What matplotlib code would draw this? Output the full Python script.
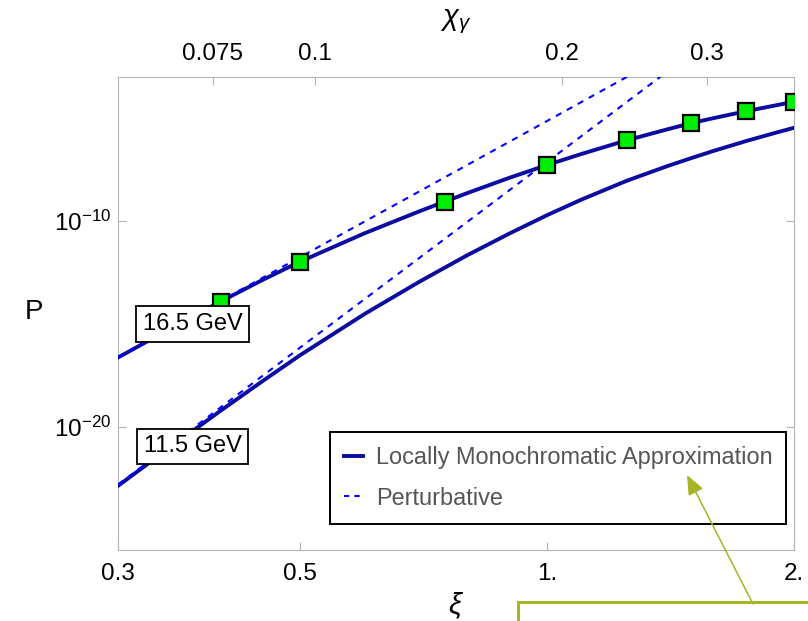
import numpy as np
import matplotlib
matplotlib.use("Agg")
import matplotlib.pyplot as plt
from matplotlib.lines import Line2D
from matplotlib.patches import Rectangle
from matplotlib.ticker import NullLocator

plt.rcParams['font.family'] = ['Liberation Sans', 'DejaVu Sans']
plt.rcParams['mathtext.fontset'] = 'custom'
plt.rcParams['mathtext.rm'] = 'Liberation Sans'
plt.rcParams['mathtext.it'] = 'Liberation Sans:italic'

# xi grid for the locally monochromatic curves
xi_lma = [0.3, 0.35, 0.4, 0.45, 0.5, 0.6, 0.7, 0.8, 0.9, 1.0, 1.1, 1.25, 1.4, 1.5, 1.6, 1.75, 1.9, 2.0]
# log10(P)
logp_165 = [-16.64, -15.17, -13.92, -12.87, -11.98, -10.59, -9.52, -8.64, -7.90, -7.28,
            -6.75, -6.08, -5.55, -5.24, -4.99, -4.66, -4.38, -4.20]
logp_115 = [-22.88, -20.91, -19.23, -17.79, -16.53, -14.51, -12.94, -11.66, -10.61, -9.72,
            -8.97, -8.05, -7.34, -6.94, -6.58, -6.11, -5.71, -5.47]

# perturbative (straight lines in log-log)
xi_pert_165 = [0.3, 0.5, 1.0, 1.3]
logp_pert_165 = [-16.64, -11.76, -5.14, -2.63]
xi_pert_115 = [0.3, 0.5, 1.0, 1.4]
logp_pert_115 = [-22.82, -16.16, -7.13, -2.75]

# green square markers on the 16.5 GeV curve
xi_marks = [0.4, 0.5, 0.75, 1.0, 1.25, 1.5, 1.75, 2.0]
logp_marks = [-13.92, -11.98, -9.07, -7.28, -6.08, -5.24, -4.66, -4.20]

xi_ticks = [0.3, 0.5, 1.0, 2.0]
xi_ticklabels = ['0.3', '0.5', '1.', '2.']
chi_ticks = [0.075, 0.1, 0.2, 0.3]
chi_ticklabels = ['0.075', '0.1', '0.2', '0.3']
chi_per_xi = 0.1917

navy = '#0c0ca0'
blue = '#0000ff'
spine_gray = '#b4b4b4'

fig = plt.figure(figsize=(8.08, 6.21), dpi=100)
ax = fig.add_axes([118 / 808, 1 - 550 / 621, (794 - 118) / 808, (550 - 77) / 621])

ax.plot(xi_lma, 10.0 ** np.array(logp_165), color=navy, lw=2.8, zorder=3)
ax.plot(xi_lma, 10.0 ** np.array(logp_115), color=navy, lw=2.8, zorder=3)
ax.plot(xi_pert_165, 10.0 ** np.array(logp_pert_165), color=blue, lw=1.5,
        dashes=(3, 3), zorder=4)
ax.plot(xi_pert_115, 10.0 ** np.array(logp_pert_115), color=blue, lw=1.5,
        dashes=(3, 3), zorder=4)
ax.plot(xi_marks, 10.0 ** np.array(logp_marks), linestyle='none', marker='s',
        markersize=11, markerfacecolor='#00ee00', markeredgecolor='black',
        markeredgewidth=1.6, zorder=5)

ax.set_xscale('log')
ax.set_yscale('log')
ax.set_xlim(0.3, 2.0)
ax.set_ylim(1e-26, 1e-3)

ax.xaxis.set_minor_locator(NullLocator())
ax.yaxis.set_minor_locator(NullLocator())
ax.set_xticks(xi_ticks)
ax.set_xticklabels(xi_ticklabels)
ax.set_yticks([1e-20, 1e-10])
ax.set_yticklabels(['$10^{-20}$', '$10^{-10}$'])
ax.tick_params(axis='both', which='major', direction='in', length=6, width=0.8,
               color=spine_gray, labelsize=17.5, top=False, right=True)
ax.tick_params(axis='x', pad=9)
ax.tick_params(axis='y', pad=5)
for sp in ax.spines.values():
    sp.set_color(spine_gray)
    sp.set_linewidth(0.8)

# top axis: chi_gamma
ax2 = ax.twiny()
ax2.set_xscale('log')
ax2.set_xlim(0.3 * chi_per_xi, 2.0 * chi_per_xi)
ax2.xaxis.set_minor_locator(NullLocator())
ax2.set_xticks(chi_ticks)
ax2.set_xticklabels(chi_ticklabels)
ax2.tick_params(axis='x', direction='in', length=6, width=0.8, color=spine_gray,
                labelsize=17.5, pad=9)
for sp in ax2.spines.values():
    sp.set_visible(False)

ax2.set_xlabel(r'$\chi_{\gamma}$', fontsize=21)
ax2.xaxis.set_label_coords(0.5, 1.116)
ax2.xaxis.label.set_va('center')

ax.set_xlabel(r'$\xi$', fontsize=21)
ax.xaxis.set_label_coords(0.5, -0.118)
ax.xaxis.label.set_va('center')
ax.set_ylabel('P', fontsize=20, rotation=0, va='center', ha='center')
ax.yaxis.set_label_coords(-0.124, 0.504)

# energy labels
box = dict(boxstyle='square,pad=0.28', facecolor='white', edgecolor='black', linewidth=1.3)
ax.text(0.3697, 10 ** -15.01, '16.5 GeV', fontsize=17, ha='center', va='center',
        bbox=box, zorder=6)
ax.text(0.3697, 10 ** -20.95, '11.5 GeV', fontsize=17, ha='center', va='center',
        bbox=box, zorder=6)

handles = [Line2D([], [], color=navy, lw=2.8),
           Line2D([], [], color=blue, lw=1.5, dashes=(2.5, 2.5))]
leg = ax.legend(handles, ['Locally Monochromatic Approximation', 'Perturbative'],
                loc='upper left', bbox_to_anchor=(330 / 808, 1 - 432 / 621),
                bbox_transform=fig.transFigure, fontsize=16.9, labelcolor='#555555',
                handlelength=0.8, handletextpad=0.55, borderpad=0.6,
                labelspacing=0.75, borderaxespad=0, fancybox=False, framealpha=1)
leg.get_frame().set_edgecolor('black')
leg.get_frame().set_linewidth(1.4)
leg.set_zorder(7)

# annotation arrow and the box it comes from
olive = '#a6b426'
arrow = ax.annotate('', xy=(687, 621 - 475), xycoords='figure pixels',
                    xytext=(753, 621 - 604), textcoords='figure pixels',
                    arrowprops=dict(arrowstyle='-|>,head_length=1.2,head_width=0.5',
                                    color=olive, lw=1.1, shrinkA=0, shrinkB=0),
                    annotation_clip=False)
arrow.set_zorder(10)
fig.patches.append(Rectangle((518 / 808, -0.05), 0.5, 0.05 + 1 - 602 / 621,
                             transform=fig.transFigure, facecolor='none',
                             edgecolor=olive, linewidth=2.2, clip_on=False))

fig.savefig('out.png', dpi=100)
